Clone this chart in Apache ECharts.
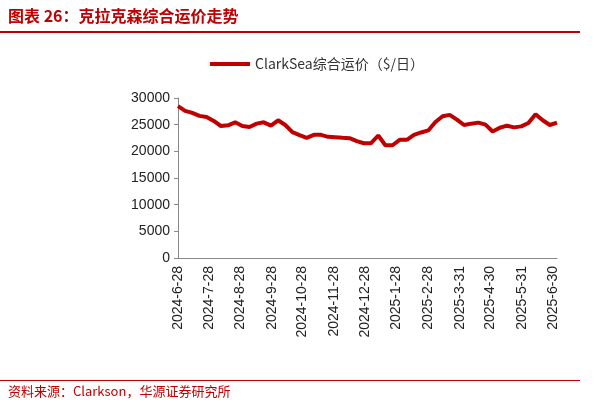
<!DOCTYPE html><html><head><meta charset="utf-8"><script src="https://cdn.jsdelivr.net/npm/echarts@6/dist/echarts.min.js"></script>
<style>body{margin:0;background:#fff}#c{width:613px;height:415px}</style></head><body><div id="c"></div><script>
const startDate='2024-06-28';
const weeklyValues=[28480,27600,27200,26650,26450,25700,24750,24870,25440,24750,24560,25190,25440,24810,25820,24940,23600,23040,22530,23100,23100,22720,22660,22530,22470,21900,21520,21520,22970,21140,21140,22150,22150,23100,23540,23920,25500,26580,26840,25950,24940,25190,25380,25000,23730,24430,24810,24490,24680,25320,26960,25820,24940,25380];
const tickLabels=['2024-6-28','2024-7-28','2024-8-28','2024-9-28','2024-10-28','2024-11-28','2024-12-28','2025-1-28','2025-2-28','2025-3-31','2025-4-30','2025-5-31','2025-6-30'];
const yTicks=[0,5000,10000,15000,20000,25000,30000];
const seriesName='ClarkSea综合运价（$/日）';
const days=[],vals=[];
const s=new Date(startDate+'T00:00:00Z');
const total=(weeklyValues.length-1)*7;
for(let i=0;i<=total;i++){const d=new Date(s.getTime()+i*86400000);
days.push(d.getUTCFullYear()+'-'+(d.getUTCMonth()+1)+'-'+d.getUTCDate());
vals.push(i%7===0?weeklyValues[i/7]:null);}
const c=echarts.init(document.getElementById('c'));
c.setOption({animation:false,
graphic:[
{type:'text',left:8,top:8,style:{text:'图表 26：克拉克森综合运价走势',fill:'#c00000',font:'bold 16px "Noto Sans CJK SC"'}},
{type:'rect',shape:{x:0,y:31,width:580,height:2},style:{fill:'#c00000'}},
{type:'rect',shape:{x:0,y:380,width:580,height:1},style:{fill:'#c00000'}},
{type:'text',left:8,top:385,style:{text:'资料来源：Clarkson，华源证券研究所',fill:'#c00000',font:'13px "Noto Sans CJK SC"'}}],
legend:{top:52,left:205,itemWidth:40,itemHeight:4,textStyle:{fontSize:14,color:'#333',fontFamily:'"Noto Sans CJK SC"'},data:[{name:seriesName,icon:'rect'}]},
grid:{left:178,right:56,top:98,bottom:157},
xAxis:{type:'category',data:days,boundaryGap:false,axisLine:{lineStyle:{color:'#888'}},axisTick:{show:false},
axisLabel:{rotate:90,fontSize:14,color:'#222',interval:(i,v)=>tickLabels.includes(v),formatter:v=>v}},
yAxis:{type:'value',min:0,max:30000,interval:5000,splitLine:{show:false},axisLine:{show:true,lineStyle:{color:'#888'}},axisTick:{show:true,length:4},axisLabel:{fontSize:14,color:'#222',formatter:v=>String(v)}},
series:[{name:seriesName,type:'line',data:vals,connectNulls:true,showSymbol:false,lineStyle:{color:'#c00000',width:4},itemStyle:{color:'#c00000'}}]});
</script></body></html>
